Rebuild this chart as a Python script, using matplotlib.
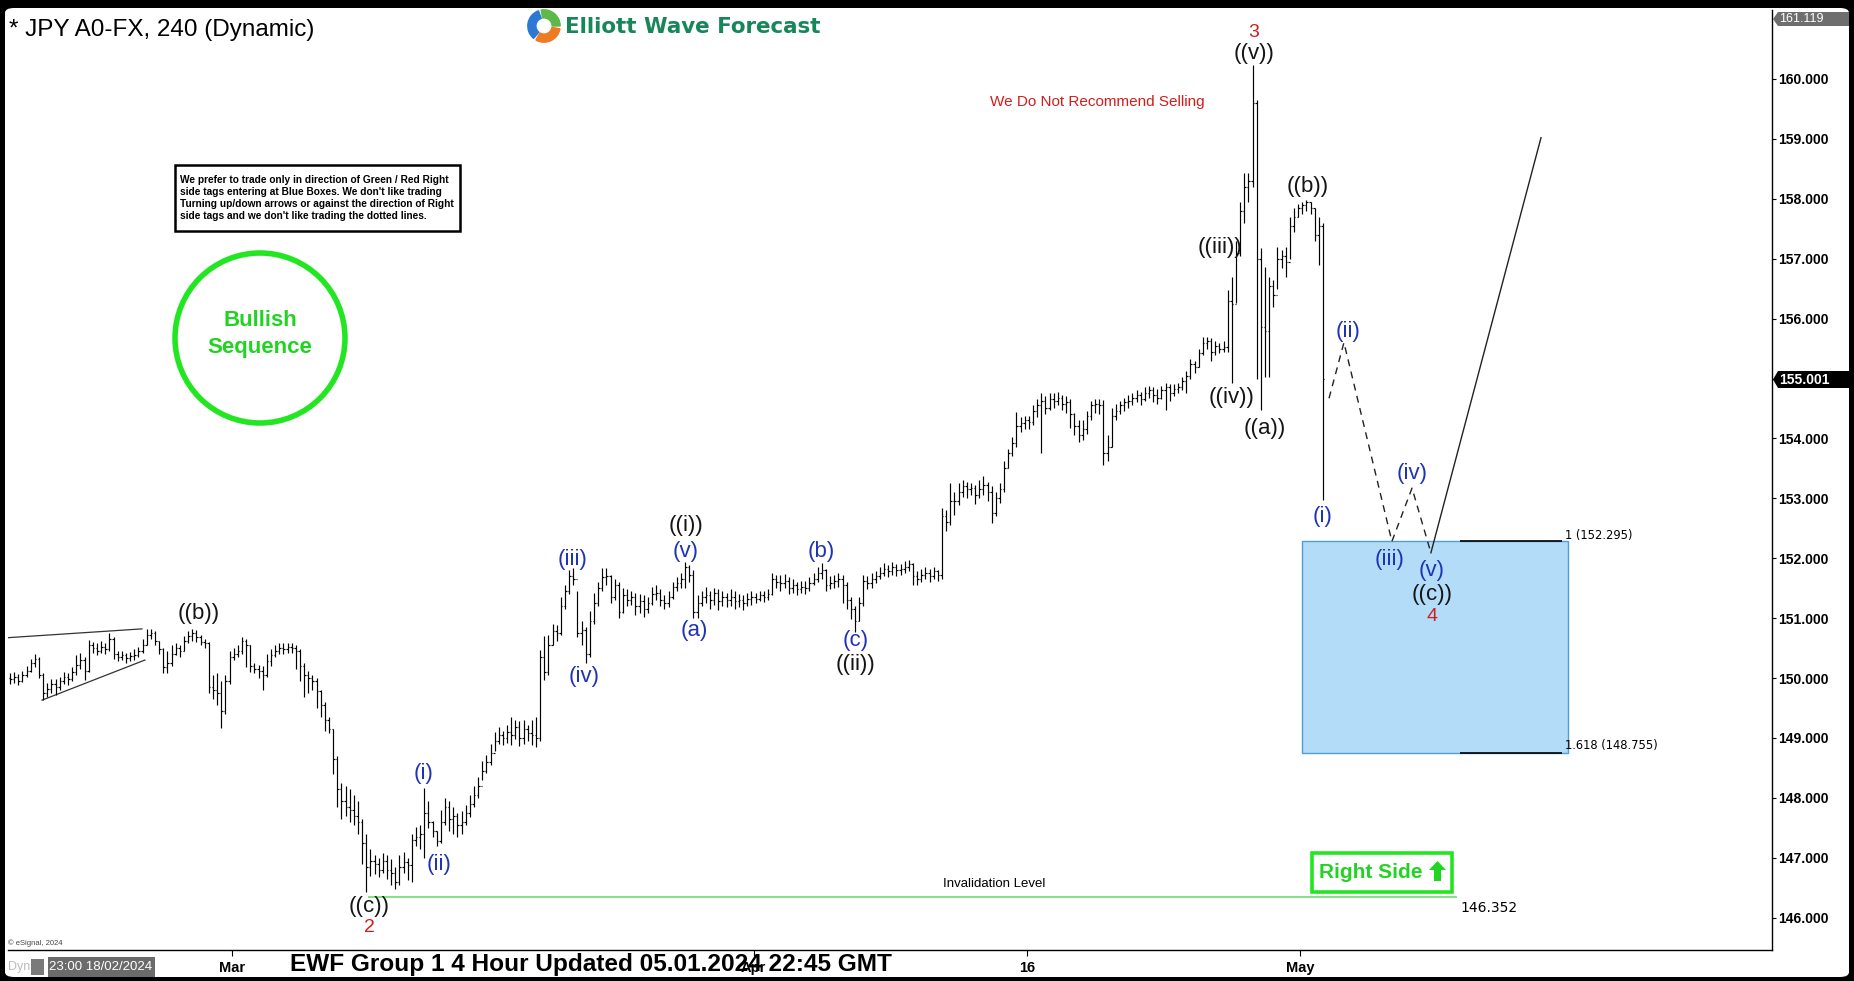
import matplotlib
matplotlib.use("Agg")
import matplotlib.pyplot as plt
from matplotlib.collections import LineCollection
from matplotlib.patches import Rectangle, Ellipse, Polygon, Wedge, FancyBboxPatch
from matplotlib.ticker import FormatStrFormatter

plt.rcParams['font.family'] = ['Liberation Sans', 'DejaVu Sans']

# ---------------- DATA (USDJPY 4h bars, 6 bars per trading day from 19 Feb 2024) -------------
first_open = 150.00
day_closes = [
    [149.98, 150.02, 149.95, 150.05, 150.12, 150.25],
    [150.32, 150.05, 149.75, 149.82, 149.90, 149.85],
    [149.95, 150.02, 149.98, 150.10, 150.22, 150.30],
    [150.12, 150.55, 150.50, 150.45, 150.52, 150.48],
    [150.65, 150.40, 150.35, 150.38, 150.33, 150.36],
    [150.38, 150.45, 150.55, 150.72, 150.75, 150.62],
    [150.48, 150.18, 150.25, 150.40, 150.50, 150.45],
    [150.62, 150.70, 150.75, 150.68, 150.60, 150.58],
    [149.85, 149.80, 149.75, 149.45, 149.95, 150.35],
    [150.40, 150.45, 150.62, 150.55, 150.20, 150.15],
    [150.12, 150.05, 150.28, 150.38, 150.45, 150.50],
    [150.48, 150.52, 150.50, 150.45, 150.20, 150.05],
    [150.00, 149.95, 149.78, 149.55, 149.30, 149.15],
    [148.65, 148.15, 147.95, 147.85, 147.80, 147.70],
    [147.60, 147.25, 146.85, 146.95, 146.90, 146.80],
    [146.95, 146.80, 146.75, 146.60, 146.85, 146.92],
    [146.88, 147.30, 147.35, 147.40, 147.75, 147.60],
    [147.45, 147.28, 147.60, 147.85, 147.65, 147.70],
    [147.55, 147.60, 147.75, 147.90, 148.05, 148.20],
    [148.45, 148.60, 148.75, 148.95, 149.05, 149.00],
    [149.10, 149.05, 149.18, 149.00, 149.15, 149.08],
    [149.05, 149.00, 150.35, 150.10, 150.55, 150.78],
    [150.75, 151.20, 151.45, 151.70, 151.65, 150.75],
    [150.80, 150.40, 150.95, 151.25, 151.50, 151.68],
    [151.70, 151.35, 151.55, 151.10, 151.38, 151.30],
    [151.35, 151.20, 151.28, 151.15, 151.25, 151.40],
    [151.42, 151.30, 151.25, 151.35, 151.52, 151.58],
    [151.65, 151.85, 151.72, 151.10, 151.25, 151.35],
    [151.38, 151.30, 151.42, 151.28, 151.35, 151.30],
    [151.35, 151.28, 151.30, 151.25, 151.32, 151.35],
    [151.32, 151.38, 151.35, 151.40, 151.65, 151.60],
    [151.58, 151.62, 151.50, 151.55, 151.48, 151.52],
    [151.50, 151.58, 151.65, 151.75, 151.80, 151.55],
    [151.58, 151.62, 151.65, 151.55, 151.30, 151.15],
    [150.95, 151.25, 151.62, 151.58, 151.65, 151.70],
    [151.75, 151.82, 151.78, 151.85, 151.80, 151.82],
    [151.85, 151.90, 151.70, 151.65, 151.72, 151.75],
    [151.70, 151.78, 151.72, 152.70, 152.60, 152.95],
    [152.95, 153.10, 153.20, 153.15, 153.18, 153.05],
    [153.15, 153.22, 153.10, 152.75, 153.00, 153.15],
    [153.50, 153.75, 153.92, 154.20, 154.25, 154.30],
    [154.28, 154.45, 154.55, 154.62, 154.50, 154.65],
    [154.62, 154.68, 154.58, 154.60, 154.40, 154.20],
    [154.05, 154.15, 154.38, 154.55, 154.58, 154.55],
    [153.75, 153.85, 154.38, 154.45, 154.55, 154.60],
    [154.62, 154.68, 154.72, 154.65, 154.75, 154.80],
    [154.72, 154.68, 154.80, 154.85, 154.75, 154.82],
    [154.85, 154.95, 155.05, 155.25, 155.20, 155.42],
    [155.60, 155.62, 155.45, 155.55, 155.50, 155.52],
    [156.30, 156.25, 157.10, 157.80, 158.20, 158.30],
    [159.60, 157.00, 155.86, 155.80, 156.55, 156.40],
    [157.00, 157.05, 156.95, 157.55, 157.70, 157.85],
    [157.90, 157.95, 157.85, 157.40, 157.55, 155.00],
]
day_highs = [
    [150.08, 150.10, 150.06, 150.12, 150.20, 150.32],
    [150.40, 150.35, 150.08, 149.92, 149.98, 149.98],
    [150.02, 150.10, 150.08, 150.18, 150.38, 150.42],
    [150.35, 150.63, 150.60, 150.58, 150.62, 150.58],
    [150.75, 150.68, 150.45, 150.45, 150.42, 150.44],
    [150.48, 150.52, 150.65, 150.82, 150.82, 150.78],
    [150.62, 150.50, 150.45, 150.55, 150.58, 150.55],
    [150.70, 150.78, 150.82, 150.80, 150.72, 150.65],
    [150.60, 150.05, 150.08, 149.95, 150.05, 150.45],
    [150.50, 150.55, 150.68, 150.65, 150.55, 150.25],
    [150.22, 150.20, 150.40, 150.48, 150.55, 150.58],
    [150.58, 150.58, 150.58, 150.55, 150.48, 150.25],
    [150.12, 150.05, 150.00, 149.80, 149.60, 149.35],
    [149.15, 148.70, 148.25, 148.20, 148.15, 148.05],
    [147.95, 147.65, 147.40, 147.15, 147.05, 147.00],
    [147.08, 147.05, 146.98, 146.85, 147.05, 147.10],
    [147.00, 147.40, 147.52, 147.55, 148.17, 147.95],
    [147.62, 147.45, 147.80, 148.00, 147.95, 147.85],
    [147.75, 147.78, 147.88, 148.05, 148.20, 148.35],
    [148.62, 148.72, 148.90, 149.10, 149.18, 149.12],
    [149.22, 149.35, 149.30, 149.28, 149.30, 149.22],
    [149.30, 149.35, 150.47, 150.70, 150.72, 150.90],
    [150.88, 151.35, 151.55, 151.80, 151.84, 151.45],
    [150.95, 150.85, 151.12, 151.42, 151.60, 151.84],
    [151.84, 151.72, 151.65, 151.60, 151.50, 151.48],
    [151.45, 151.42, 151.40, 151.38, 151.36, 151.52],
    [151.55, 151.48, 151.38, 151.45, 151.60, 151.68],
    [151.75, 151.94, 151.88, 151.80, 151.38, 151.45],
    [151.52, 151.45, 151.50, 151.48, 151.45, 151.42],
    [151.48, 151.45, 151.40, 151.38, 151.42, 151.45],
    [151.42, 151.45, 151.45, 151.48, 151.75, 151.72],
    [151.72, 151.74, 151.68, 151.65, 151.60, 151.62],
    [151.62, 151.68, 151.75, 151.85, 151.92, 151.82],
    [151.70, 151.72, 151.76, 151.72, 151.60, 151.35],
    [151.20, 151.35, 151.72, 151.70, 151.75, 151.78],
    [151.85, 151.92, 151.88, 151.94, 151.90, 151.90],
    [151.95, 151.97, 151.92, 151.78, 151.82, 151.85],
    [151.82, 151.85, 151.80, 152.84, 152.80, 153.25],
    [153.10, 153.25, 153.30, 153.28, 153.25, 153.22],
    [153.30, 153.38, 153.28, 153.20, 153.10, 153.25],
    [153.62, 153.82, 154.02, 154.44, 154.35, 154.38],
    [154.38, 154.55, 154.65, 154.76, 154.70, 154.76],
    [154.76, 154.78, 154.72, 154.70, 154.65, 154.42],
    [154.30, 154.30, 154.45, 154.62, 154.66, 154.66],
    [154.64, 154.05, 154.50, 154.58, 154.62, 154.68],
    [154.72, 154.76, 154.80, 154.78, 154.85, 154.88],
    [154.85, 154.82, 154.88, 154.92, 154.90, 154.90],
    [154.92, 155.02, 155.12, 155.32, 155.30, 155.50],
    [155.69, 155.70, 155.68, 155.62, 155.60, 155.62],
    [156.48, 156.70, 157.30, 157.95, 158.43, 158.43],
    [160.23, 159.65, 157.18, 156.86, 156.70, 156.65],
    [157.20, 157.15, 157.20, 157.70, 157.85, 157.92],
    [157.95, 157.98, 157.95, 157.85, 157.70, 157.60],
]
day_lows = [
    [149.90, 149.92, 149.88, 149.94, 150.02, 150.10],
    [150.18, 150.00, 149.63, 149.68, 149.75, 149.72],
    [149.80, 149.90, 149.88, 149.95, 150.05, 150.15],
    [149.97, 150.10, 150.42, 150.38, 150.42, 150.40],
    [150.45, 150.32, 150.28, 150.30, 150.25, 150.28],
    [150.30, 150.35, 150.42, 150.55, 150.65, 150.55],
    [150.40, 150.08, 150.08, 150.20, 150.38, 150.35],
    [150.45, 150.58, 150.62, 150.60, 150.55, 150.50],
    [149.75, 149.65, 149.55, 149.17, 149.40, 149.90],
    [150.30, 150.35, 150.40, 150.18, 150.10, 150.08],
    [150.00, 149.80, 150.02, 150.20, 150.35, 150.40],
    [150.40, 150.42, 150.42, 150.15, 149.95, 149.68],
    [149.75, 149.80, 149.50, 149.35, 149.12, 149.08],
    [148.40, 147.85, 147.65, 147.70, 147.60, 147.55],
    [147.40, 146.90, 146.43, 146.70, 146.72, 146.68],
    [146.75, 146.65, 146.55, 146.48, 146.55, 146.75],
    [146.62, 146.60, 147.20, 147.15, 147.00, 147.50],
    [147.35, 147.20, 147.25, 147.55, 147.45, 147.40],
    [147.35, 147.40, 147.55, 147.68, 147.85, 148.00],
    [148.30, 148.42, 148.55, 148.78, 148.90, 148.88],
    [148.92, 148.88, 148.98, 148.86, 148.90, 148.95],
    [148.88, 148.85, 148.95, 149.97, 150.05, 150.55],
    [150.62, 150.72, 151.15, 151.40, 151.55, 150.68],
    [150.55, 150.25, 150.35, 150.90, 151.20, 151.45],
    [151.55, 151.25, 151.30, 151.00, 151.08, 151.20],
    [151.22, 151.05, 151.08, 151.02, 151.08, 151.22],
    [151.30, 151.20, 151.15, 151.18, 151.32, 151.45],
    [151.50, 151.50, 151.60, 151.00, 151.00, 151.20],
    [151.25, 151.15, 151.22, 151.13, 151.20, 151.18],
    [151.20, 151.15, 151.18, 151.14, 151.20, 151.22],
    [151.25, 151.28, 151.27, 151.30, 151.38, 151.50],
    [151.45, 151.50, 151.40, 151.42, 151.38, 151.42],
    [151.40, 151.45, 151.55, 151.60, 151.65, 151.45],
    [151.48, 151.50, 151.52, 151.25, 151.15, 150.98],
    [150.77, 150.95, 151.20, 151.48, 151.50, 151.58],
    [151.65, 151.70, 151.68, 151.72, 151.70, 151.72],
    [151.75, 151.78, 151.55, 151.55, 151.60, 151.65],
    [151.60, 151.65, 151.62, 151.65, 152.45, 152.55],
    [152.72, 152.88, 153.02, 153.00, 153.05, 152.90],
    [153.00, 153.05, 152.95, 152.59, 152.70, 152.92],
    [153.10, 153.50, 153.70, 153.85, 154.10, 154.15],
    [154.15, 154.22, 154.35, 153.76, 154.40, 154.48],
    [154.50, 154.55, 154.48, 154.42, 154.18, 154.05],
    [153.94, 153.98, 154.08, 154.30, 154.42, 154.40],
    [153.56, 153.62, 153.85, 154.30, 154.40, 154.45],
    [154.50, 154.55, 154.60, 154.55, 154.62, 154.68],
    [154.60, 154.58, 154.65, 154.47, 154.62, 154.70],
    [154.75, 154.80, 154.76, 155.00, 155.10, 155.20],
    [155.40, 155.50, 155.30, 155.40, 155.42, 155.45],
    [155.45, 154.92, 156.26, 157.05, 157.60, 157.95],
    [158.20, 155.00, 154.47, 155.02, 155.02, 156.20],
    [156.50, 156.85, 156.70, 157.00, 157.45, 157.70],
    [157.75, 157.80, 157.75, 157.30, 156.90, 152.97],
]

y_ticks = list(range(146, 161))
x_tick_days = [9, 30, 41, 52]
x_tick_labels = ["Mar", "Apr", "16", "May"]

# wave labels: text, trading day, price, colour key
wave_labels = [
    ("((b))", 7.69, 151.07, "k"), ("((c))", 14.53, 146.19, "k"), ("2", 14.53, 145.83, "r"),
    ("(i)", 16.74, 148.41, "b"), ("(ii)", 17.34, 146.89, "b"), ("(iii)", 22.70, 151.97, "b"),
    ("(iv)", 23.18, 150.02, "b"), ("((i))", 27.28, 152.54, "k"), ("(v)", 27.28, 152.12, "b"),
    ("(a)", 27.61, 150.80, "b"), ("(b)", 32.72, 152.12, "b"), ("(c)", 34.12, 150.62, "b"),
    ("((ii))", 34.12, 150.23, "k"), ("((iii))", 48.77, 157.18, "k"), ("((iv))", 49.22, 154.69, "k"),
    ("3", 50.14, 160.78, "r"), ("((v))", 50.14, 160.43, "k"), ("((a))", 50.58, 154.17, "k"),
    ("((b))", 52.31, 158.21, "k"), ("(i)", 52.92, 152.70, "b"), ("(ii)", 53.92, 155.79, "b"),
    ("(iii)", 55.61, 151.97, "b"), ("(iv)", 56.50, 153.42, "b"), ("(v)", 57.30, 151.80, "b"),
    ("((c))", 57.30, 151.39, "k"), ("4", 57.30, 151.02, "r"),
]
proj_days = [53.16, 53.76, 55.69, 56.50, 57.26, 61.69]
proj_prices = [154.67, 155.60, 152.28, 153.17, 152.09, 159.02]
tri_upper = ([-0.12, 5.39], [150.67, 150.82])
tri_lower = ([1.37, 5.51], [149.63, 150.30])
fib_100 = 152.295
fib_1618 = 148.755
box_days = (52.06, 62.78)
fib_line_days = (58.43, 62.54)
invalidation = 146.352
invalidation_days = (14.49, 58.31)
last_price = 155.001
top_price = 161.119

# ---------------- FIGURE -------------
W, H = 1854, 981
fig = plt.figure(figsize=(W / 100, H / 100), dpi=100, facecolor="#000000")


def fx(x):
    return x / W


def fy(y):
    return 1 - y / H


fig.add_artist(FancyBboxPatch((fx(5), fy(977)), fx(1849) - fx(5), fy(8) - fy(977),
                              boxstyle="round,pad=0,rounding_size=0.005",
                              transform=fig.transFigure, facecolor="white",
                              edgecolor="none", zorder=-5))

AX_L, AX_R, AX_T, AX_B = 8, 1772, 10, 950
PX_PER_DAY, PX_PER_YEN = 24.85, 59.9


def day_at(x):
    return (x - 8) / PX_PER_DAY


def price_at(y):
    return 160 - (y - 79) / PX_PER_YEN


ax = fig.add_axes([fx(AX_L), fy(AX_B), (AX_R - AX_L) / W, (AX_B - AX_T) / H])
ax.set_xlim(day_at(AX_L), day_at(AX_R))
ax.set_ylim(price_at(AX_B), price_at(AX_T))
ax.set_facecolor("white")
for s in ("left", "top"):
    ax.spines[s].set_visible(False)
for s in ("right", "bottom"):
    ax.spines[s].set_color("black")
    ax.spines[s].set_linewidth(1.0)

# OHLC bars
closes = [v for d in day_closes for v in d]
highs = [v for d in day_highs for v in d]
lows = [v for d in day_lows for v in d]
opens = [first_open] + closes[:-1]
tk = 0.06
segs = []
for i, (o, h, l, c) in enumerate(zip(opens, highs, lows, closes)):
    x = i / 6 + 1 / 12
    segs.append([(x, l), (x, h)])
    segs.append([(x - tk, o), (x, o)])
    segs.append([(x, c), (x + tk, c)])
ax.add_collection(LineCollection(segs, colors="black", linewidths=0.85, zorder=3))

# triangle lines
ax.plot(*tri_upper, color="#333333", lw=0.9, zorder=2)
ax.plot(*tri_lower, color="#333333", lw=0.9, zorder=2)

# blue box + fib lines
ax.add_patch(Rectangle((box_days[0], fib_1618), box_days[1] - box_days[0], fib_100 - fib_1618,
                       facecolor="#b3dcf9", edgecolor="#4f9fd6", lw=1.0, zorder=1))
ax.hlines([fib_100, fib_1618], *fib_line_days, colors="black", lw=1.2, zorder=2)
ax.text(fib_line_days[1] + 0.12, fib_100 + 0.08, "1 (152.295)", fontsize=8.3,
        family="DejaVu Sans", va="center", ha="left", clip_on=False)
ax.text(fib_line_days[1] + 0.12, fib_1618 + 0.11, "1.618 (148.755)", fontsize=8.3,
        family="DejaVu Sans", va="center", ha="left", clip_on=False)

# projection
ax.plot(proj_days[:5], proj_prices[:5], color="#222222", lw=1.0, ls=(0, (5, 4)), zorder=4)
ax.plot(proj_days[4:], proj_prices[4:], color="#222222", lw=1.0, zorder=4)

# invalidation
ax.hlines(invalidation, *invalidation_days, colors="#78e078", lw=1.3, zorder=2)
ax.text(39.68, 146.56, "Invalidation Level", fontsize=9.5, ha="center", va="center")
ax.text(58.43, 146.16, "146.352", fontsize=10, family="DejaVu Sans", ha="left", va="center")

# wave labels
colmap = {"k": "#151515", "b": "#1f33b5", "r": "#d41c1c"}
for t, d, p, c in wave_labels:
    size = 14 if c == "r" else 16
    ax.text(d, p, t, color=colmap[c], fontsize=size, ha="center", va="center", zorder=6)

ax.text(day_at(1097), price_at(102), "We Do Not Recommend Selling", color="#d41c1c",
        fontsize=11, ha="center", va="center")

# y axis on the right
ax.yaxis.tick_right()
ax.set_yticks(y_ticks)
ax.yaxis.set_major_formatter(FormatStrFormatter("%.3f"))
ax.tick_params(axis="y", direction="out", length=3, width=0.8, pad=1.5, labelsize=10, colors="black")
for lab in ax.get_yticklabels():
    lab.set_fontweight("bold")
ax.set_xticks(x_tick_days)
ax.set_xticklabels(x_tick_labels)
ax.tick_params(axis="x", direction="out", length=4, width=0.8, pad=4, labelsize=10.5)
for lab in ax.get_xticklabels():
    lab.set_fontweight("bold")


# price tags
def price_tag(y0, y1, fc, txt, weight, size):
    x0, x1, notch = 1773, 1849, 5
    ym = (y0 + y1) / 2
    pts = [(x0, ym), (x0 + notch, y0), (x1, y0), (x1, y1), (x0 + notch, y1)]
    fig.add_artist(Polygon([(fx(a), fy(b)) for a, b in pts], closed=True, transform=fig.transFigure,
                           facecolor=fc, edgecolor="none", zorder=5))
    fig.text(fx(x0 + notch + 1), fy(ym), txt, color="white", fontsize=size, fontweight=weight,
             va="center", ha="left", zorder=6)


price_tag(12, 26, "#6e6e6e", f"{top_price:.3f}", "normal", 9)
price_tag(371, 388, "#000000", f"{last_price:.3f}", "bold", 10)

# title and logo
fig.text(fx(9), fy(30), "* JPY A0-FX, 240 (Dynamic)", fontsize=17.5, va="center", ha="left", color="black")
fig.text(fx(565), fy(27), "Elliott Wave Forecast", fontsize=15.4, fontweight="bold", color="#17875a",
         family="DejaVu Sans", va="center", ha="left")
lax = fig.add_axes([fx(527), fy(43), 34 / W, 34 / H])
lax.set_xlim(-1.05, 1.05)
lax.set_ylim(-1.05, 1.05)
lax.set_aspect("equal")
lax.axis("off")
lax.add_patch(Wedge((0, 0), 1, 110, 230, width=0.5, color="#2c78d4"))
lax.add_patch(Wedge((0, 0), 1, 240, 350, width=0.5, color="#ee7a22"))
lax.add_patch(Wedge((0, 0), 1, 0, 100, width=0.5, color="#5db94a"))

# rules box
fig.add_artist(Rectangle((fx(175), fy(231)), (460 - 175) / W, (231 - 165) / H, transform=fig.transFigure,
                         facecolor="white", edgecolor="black", lw=1.8, zorder=4))
fig.text(fx(180), fy(198),
         "We prefer to trade only in direction of Green / Red Right\n"
         "side tags entering at Blue Boxes. We don't like trading\n"
         "Turning up/down arrows or against the direction of Right\n"
         "side tags and we don't like trading the dotted lines.",
         fontsize=7.25, fontweight="bold", va="center", ha="left", linespacing=1.25, zorder=5)

# bullish sequence circle
fig.add_artist(Ellipse((fx(260), fy(338)), 170 / W, 170 / H, transform=fig.transFigure,
                       facecolor="white", edgecolor="#22e622", lw=4, zorder=4))
fig.text(fx(260), fy(321), "Bullish", fontsize=16, fontweight="bold", color="#22d422",
         ha="center", va="center", zorder=5)
fig.text(fx(260), fy(347), "Sequence", fontsize=16, fontweight="bold", color="#22d422",
         ha="center", va="center", zorder=5)

# right side tag
fig.add_artist(Rectangle((fx(1312), fy(892)), 140 / W, 39 / H, transform=fig.transFigure,
                         facecolor="white", edgecolor="#22e622", lw=2.6, zorder=4))
fig.text(fx(1319), fy(872), "Right Side", fontsize=15, fontweight="bold", color="#22d422",
         ha="left", va="center", zorder=5)
arrow = [(1437.5, 861), (1446, 870), (1441, 870), (1441, 881), (1434, 881), (1434, 870), (1429, 870)]
fig.add_artist(Polygon([(fx(a), fy(b)) for a, b in arrow], closed=True, transform=fig.transFigure,
                       facecolor="#22d422", edgecolor="none", zorder=5))

# bottom strip
fig.text(fx(8), fy(943), "\u00a9 eSignal, 2024", fontsize=5.5, color="#444444", va="center", ha="left")
fig.text(fx(8), fy(967), "Dyn", fontsize=9, color="#bbbbbb", va="center", ha="left")
fig.add_artist(Rectangle((fx(31), fy(975)), 13 / W, 16 / H, transform=fig.transFigure,
                         facecolor="#7a7a7a", edgecolor="none"))
fig.add_artist(Rectangle((fx(48), fy(977)), 107 / W, 20 / H, transform=fig.transFigure,
                         facecolor="#6b6b6b", edgecolor="none"))
fig.text(fx(101), fy(967), "23:00 18/02/2024", fontsize=9.5, color="white", va="center", ha="center")
fig.text(fx(591), fy(964), "EWF Group 1 4 Hour Updated 05.01.2024 22:45 GMT", fontsize=17.6,
         fontweight="bold", color="black", va="center", ha="center", zorder=6)

fig.savefig("out.png", dpi=100, facecolor=fig.get_facecolor())
